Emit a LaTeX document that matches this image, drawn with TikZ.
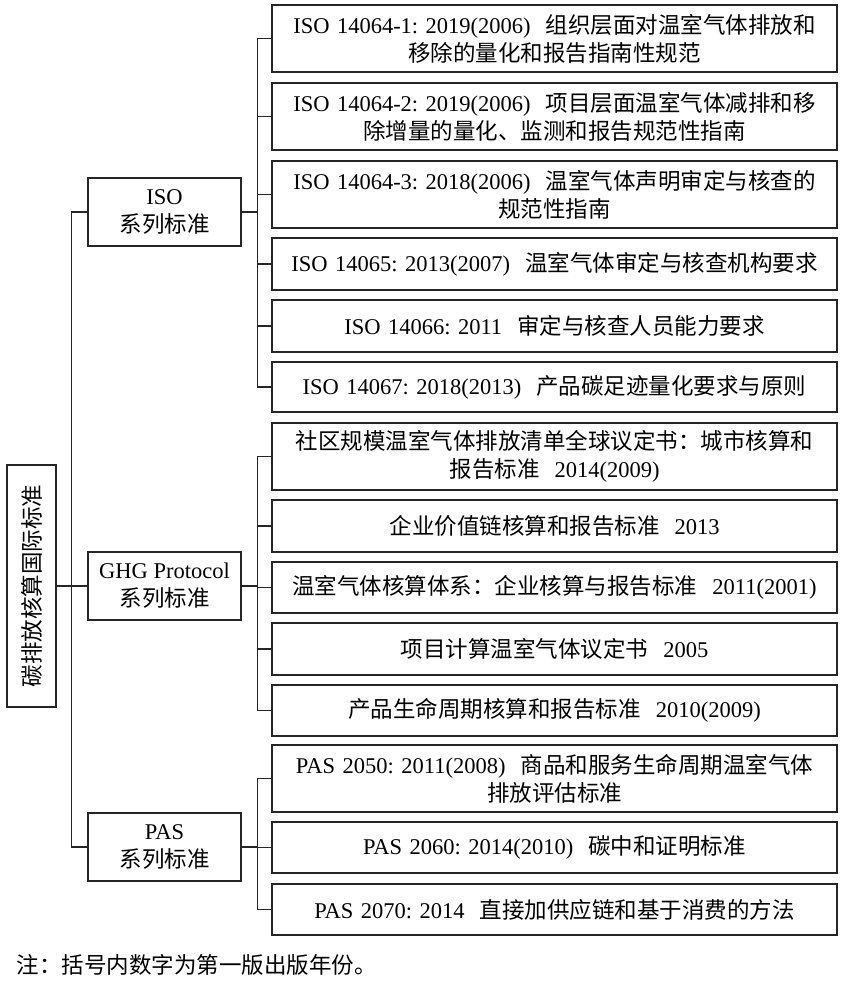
\documentclass[tikz,border=0pt]{standalone}
\usepackage{fontspec}
\setmainfont{Noto Sans CJK SC}
\newfontfamily\lat{Liberation Serif}
\frenchspacing
\begin{document}
\begin{tikzpicture}[x=1pt, y=-1pt, line width=1.1pt,
    font=\fontsize{22.5}{28}\selectfont,
    root_style/.style={draw=black!85, rotate=90, minimum width=242, minimum height=49, inner sep=0pt},
    mid_style/.style={draw=black!85, minimum width=153, minimum height=68, align=center, inner sep=0pt},
    leaf_style/.style={draw=black!85, minimum width=565, text width=555, align=center, inner sep=0pt},
    edge_style/.style={draw=black!85, line width=1.1pt}]

    \useasboundingbox (0,0) rectangle (841,988);

    \node[root_style] (root) at (31.5,586) {碳排放核算国际标准};

    \node[mid_style] (iso) at (164.5,212) {{\lat ISO}\\系列标准};
    \node[mid_style] (ghg) at (164.5,586) {{\lat GHG Protocol}\\系列标准};
    \node[mid_style] (pas) at (164.5,847) {{\lat PAS}\\系列标准};

    \node[leaf_style, minimum height=67] (l1) at (554.5,38.5) {{\lat ISO 14064-1: 2019(2006)}\ \ 组织层面对温室气体排放和\\移除的量化和报告指南性规范};
    \node[leaf_style, minimum height=67] (l2) at (554.5,116.5) {{\lat ISO 14064-2: 2019(2006)}\ \ 项目层面温室气体减排和移\\除增量的量化、监测和报告规范性指南};
    \node[leaf_style, minimum height=67] (l3) at (554.5,194.5) {{\lat ISO 14064-3: 2018(2006)}\ \ 温室气体声明审定与核查的\\规范性指南};
    \node[leaf_style, minimum height=52] (l4) at (554.5,264) {{\lat ISO 14065: 2013(2007)}\ \ 温室气体审定与核查机构要求};
    \node[leaf_style, minimum height=52] (l5) at (554.5,326) {{\lat ISO 14066: 2011}\ \ 审定与核查人员能力要求};
    \node[leaf_style, minimum height=50] (l6) at (554.5,387) {{\lat ISO 14067: 2018(2013)}\ \ 产品碳足迹量化要求与原则};

    \node[leaf_style, minimum height=67] (l7) at (554.5,456.5) {社区规模温室气体排放清单全球议定书：城市核算和\\报告标准\ \ {\lat 2014(2009)}};
    \node[leaf_style, minimum height=52] (l8) at (554.5,526) {企业价值链核算和报告标准\ \ {\lat 2013}};
    \node[leaf_style, minimum height=51] (l9) at (554.5,587.5) {温室气体核算体系：企业核算与报告标准\ \ {\lat 2011(2001)}};
    \node[leaf_style, minimum height=52] (l10) at (554.5,649) {项目计算温室气体议定书\ \ {\lat 2005}};
    \node[leaf_style, minimum height=51] (l11) at (554.5,710.5) {产品生命周期核算和报告标准\ \ {\lat 2010(2009)}};

    \node[leaf_style, minimum height=67] (l12) at (554.5,778.5) {{\lat PAS 2050: 2011(2008)}\ \ 商品和服务生命周期温室气体\\排放评估标准};
    \node[leaf_style, minimum height=51] (l13) at (554.5,847.5) {{\lat PAS 2060: 2014(2010)}\ \ 碳中和证明标准};
    \node[leaf_style, minimum height=51] (l14) at (554.5,909.5) {{\lat PAS 2070: 2014}\ \ 直接加供应链和基于消费的方法};

    \node[anchor=west, inner sep=0pt] (note) at (16,965) {注：括号内数字为第一版出版年份。};

    % trunk
    \draw[edge_style] (root.south) -- (ghg.west);
    \draw[edge_style] (iso.west) -- ++(-16,0) |- (pas.west);

    % branches
    \draw[edge_style] (iso.east) -- ++(16,0) coordinate (isoj);
    \draw[edge_style] (ghg.east) -- ++(16,0) coordinate (ghgj);
    \draw[edge_style] (pas.east) -- ++(16,0) coordinate (pasj);
    \foreach \n in {1,...,6} \draw[edge_style] (isoj) |- (l\n.west);
    \foreach \n in {7,...,11} \draw[edge_style] (ghgj) |- (l\n.west);
    \foreach \n in {12,13,14} \draw[edge_style] (pasj) |- (l\n.west);
\end{tikzpicture}
\end{document}
